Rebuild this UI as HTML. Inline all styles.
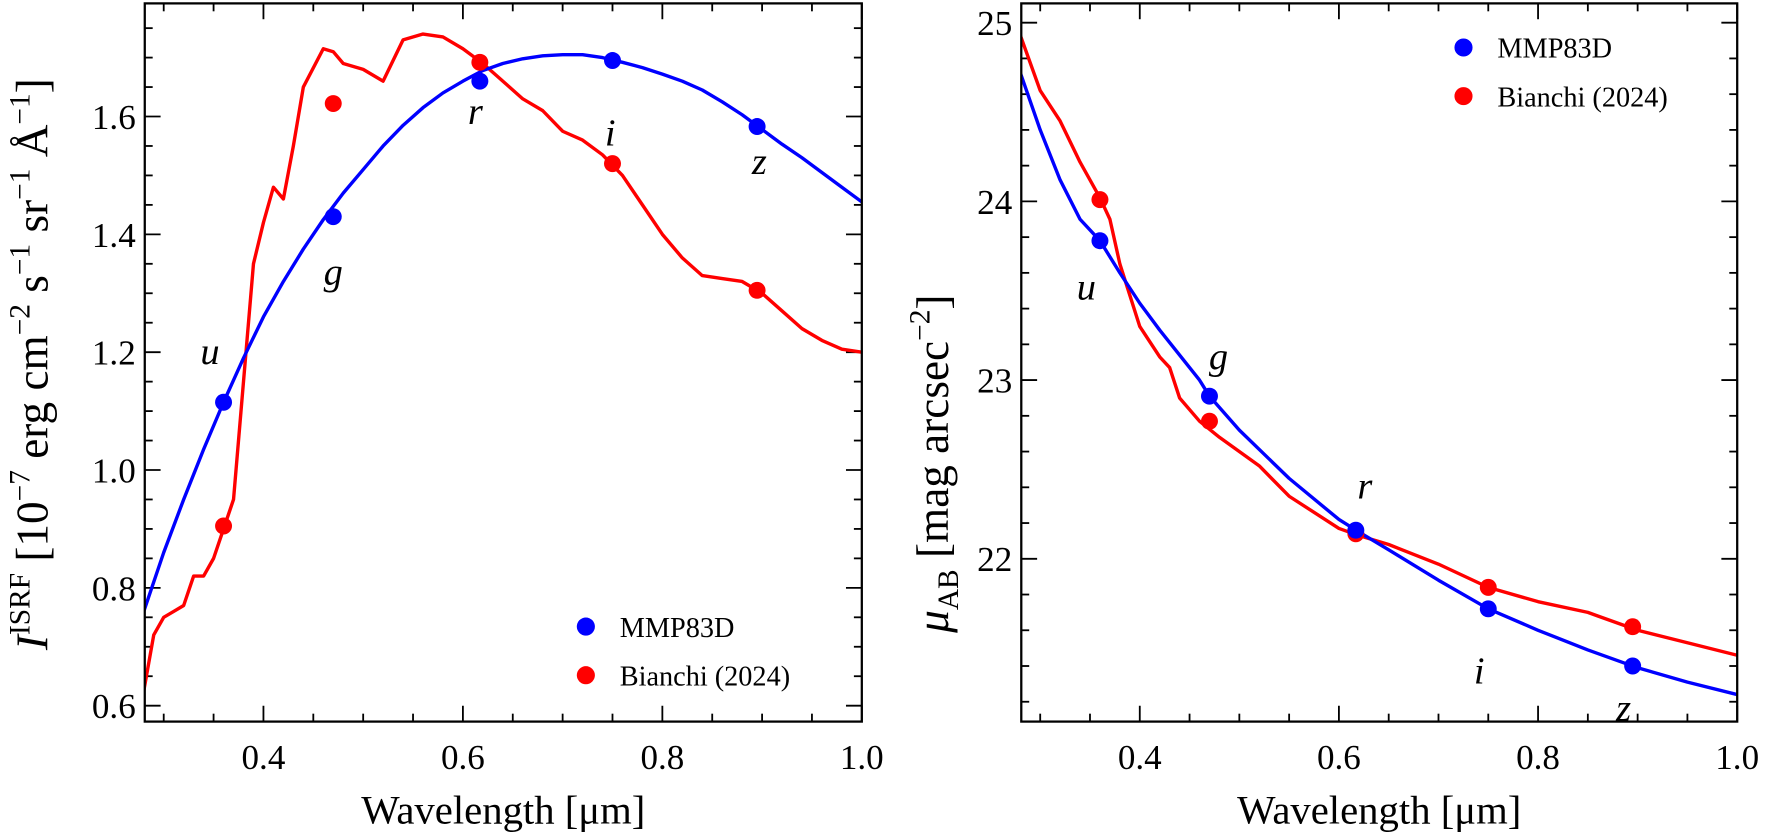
<!DOCTYPE html>
<html><head><meta charset="utf-8"><style>
html,body{margin:0;padding:0;background:#fff}
svg{display:block}
text{font-family:"Liberation Serif",serif;fill:#000}
</style></head><body>
<svg id="fig" width="1770" height="840" viewBox="0 0 1565 742.7" preserveAspectRatio="none"></svg>
<script>
const bands=["u","g","r","i","z"];
const bandWl=[0.36,0.47,0.617,0.75,0.895];
const leftBluePts=[1.115,1.43,1.66,1.695,1.583];
const leftRedPts=[0.905,1.622,1.692,1.52,1.305];
const rightBluePts=[23.78,22.91,22.16,21.72,21.40];
const rightRedPts=[24.01,22.77,22.14,21.84,21.62];
const leftBlueX=[0.28,0.30,0.32,0.34,0.36,0.38,0.40,0.42,0.44,0.46,0.48,0.50,0.52,0.54,0.56,0.58,0.60,0.62,0.64,0.66,0.68,0.70,0.72,0.74,0.76,0.78,0.80,0.82,0.84,0.86,0.88,0.90,0.92,0.94,0.96,0.98,1.0];
const leftBlueY=[0.76,0.86,0.95,1.035,1.115,1.19,1.26,1.32,1.375,1.425,1.47,1.51,1.55,1.585,1.615,1.64,1.66,1.678,1.69,1.698,1.703,1.705,1.705,1.70,1.692,1.683,1.672,1.66,1.645,1.625,1.603,1.578,1.553,1.53,1.505,1.48,1.455];
const leftRedX=[0.28,0.29,0.30,0.31,0.32,0.33,0.34,0.35,0.36,0.37,0.38,0.39,0.40,0.41,0.42,0.43,0.44,0.46,0.47,0.48,0.50,0.52,0.54,0.56,0.58,0.60,0.62,0.64,0.66,0.68,0.70,0.72,0.74,0.76,0.78,0.80,0.82,0.84,0.86,0.88,0.90,0.92,0.94,0.96,0.98,1.0];
const leftRedY=[0.625,0.72,0.75,0.76,0.77,0.82,0.82,0.85,0.90,0.95,1.15,1.35,1.42,1.48,1.46,1.55,1.65,1.715,1.71,1.69,1.68,1.66,1.73,1.74,1.735,1.715,1.69,1.66,1.63,1.61,1.575,1.56,1.535,1.50,1.45,1.40,1.36,1.33,1.325,1.32,1.30,1.27,1.24,1.22,1.205,1.20];
const rightBlueX=[0.28,0.30,0.32,0.34,0.36,0.38,0.40,0.42,0.44,0.46,0.47,0.50,0.55,0.60,0.62,0.65,0.70,0.75,0.80,0.85,0.90,0.95,1.0];
const rightBlueY=[24.72,24.40,24.12,23.90,23.78,23.60,23.43,23.28,23.14,23.00,22.91,22.72,22.45,22.22,22.15,22.05,21.88,21.72,21.60,21.49,21.39,21.31,21.24];
const rightRedX=[0.28,0.30,0.32,0.34,0.36,0.37,0.38,0.40,0.42,0.43,0.44,0.46,0.48,0.52,0.55,0.60,0.62,0.65,0.70,0.75,0.80,0.85,0.86,0.90,0.95,1.0];
const rightRedY=[24.93,24.62,24.45,24.22,24.02,23.90,23.65,23.30,23.13,23.07,22.90,22.77,22.68,22.52,22.35,22.17,22.13,22.08,21.97,21.84,21.76,21.70,21.68,21.60,21.53,21.46];
const xTicks=[0.4,0.6,0.8,1.0];
const xTickLabels=["0.4","0.6","0.8","1.0"];
const leftYTicks=[0.6,0.8,1.0,1.2,1.4,1.6];
const leftYTickLabels=["0.6","0.8","1.0","1.2","1.4","1.6"];
const rightYTicks=[22,23,24,25];
const rightYTickLabels=["22","23","24","25"];

const NS="http://www.w3.org/2000/svg";
const svg=document.getElementById('fig');
function mk(tag,attrs,parent){const e=document.createElementNS(NS,tag);for(const k in attrs)e.setAttribute(k,attrs[k]);(parent||svg).appendChild(e);return e;}

function panel(o){
  const g=mk('g',{});
  
  
  const sx=v=>o.x0+(v-o.xmin)/(o.xmax-o.xmin)*(o.x1-o.x0);
  const sy=v=>o.y1-(v-o.ymin)/(o.ymax-o.ymin)*(o.y1-o.y0);
  for(let v=0.3;v<=1.0001;v+=0.05){const X=sx(v);const major=xTicks.some(t=>Math.abs(t-v)<1e-6);const L=major?14:7;
    const t1=mk('line',{x1:X,x2:X,y1:o.y1,y2:o.y1-L,stroke:'#000','stroke-width':1.6},g);
    
    const t2=mk('line',{x1:X,x2:X,y1:o.y0,y2:o.y0+L,stroke:'#000','stroke-width':1.6},g);
    }
  xTicks.forEach((v,i)=>{const t=mk('text',{x:sx(v),y:o.y1+42,'font-size':31,'text-anchor':'middle'},g);t.textContent=xTickLabels[i];
    });
  for(let v=Math.ceil(o.ymin/o.minor)*o.minor;v<=o.ymax;v+=o.minor){const Y=sy(v);const major=o.yt.some(t=>Math.abs(t-v)<1e-6);const L=major?14:7;
    const t1=mk('line',{x1:o.x0,x2:o.x0+L,y1:Y,y2:Y,stroke:'#000','stroke-width':1.6},g);
    
    const t2=mk('line',{x1:o.x1,x2:o.x1-L,y1:Y,y2:Y,stroke:'#000','stroke-width':1.6},g);
    }
  o.yt.forEach((v,i)=>{const t=mk('text',{x:o.x0-8,y:sy(v)+11,'font-size':31,'text-anchor':'end'},g);t.textContent=o.ytl[i];
    });
  const clip=mk('clipPath',{id:o.name+'-clip'},g);mk('rect',{x:o.x0,y:o.y0,width:o.x1-o.x0,height:o.y1-o.y0},clip);
  const line=(xs,ys,c,n)=>{const p=mk('polyline',{points:xs.map((x,i)=>sx(x)+','+sy(ys[i])).join(' '),fill:'none',stroke:c,'stroke-width':3,'stroke-linejoin':'round','clip-path':'url(#'+o.name+'-clip)'},g);
    };
  line(o.rx,o.ry,'#ff0000','bianchi-line');
  line(o.bx,o.by,'#0000ff','mmp83d-line');
  bandWl.forEach((w,i)=>{const c1=mk('circle',{cx:sx(w),cy:sy(o.rp[i]),r:7.5,fill:'#ff0000'},g);
    
    const c2=mk('circle',{cx:sx(w),cy:sy(o.bp[i]),r:7.5,fill:'#0000ff'},g);
    
    const t=mk('text',{x:sx(w)+o.lab[i][0],y:sy(o.bp[i])+o.lab[i][1],'font-size':34,'font-style':'italic','text-anchor':'middle'},g);
    t.textContent=bands[i];});
  const fr=mk('rect',{x:o.x0,y:o.y0,width:o.x1-o.x0,height:o.y1-o.y0,fill:'none',stroke:'#000','stroke-width':2},g);
  
  const xl=mk('text',{x:(o.x0+o.x1)/2,y:o.y1+90,'font-size':36,'text-anchor':'middle'},g);
  xl.textContent='Wavelength [μm]';
  const lg=mk('g',{},g);
  [['MMP83D','#0000ff'],['Bianchi (2024)','#ff0000']].forEach((e,i)=>{
    const c=mk('circle',{cx:o.lx,cy:o.ly+i*43,r:8,fill:e[1]},lg);
    const t=mk('text',{x:o.lx+30,y:o.ly+i*43+9,'font-size':25},lg);t.textContent=e[0];});
  return g;
}
panel({name:'left-panel',x0:128,x1:762,y0:3,y1:638,xmin:0.281,xmax:1.0,ymin:0.573,ymax:1.792,minor:0.05,yt:leftYTicks,ytl:leftYTickLabels,
  bx:leftBlueX,by:leftBlueY,rx:leftRedX,ry:leftRedY,bp:leftBluePts,rp:leftRedPts,
  lab:[[-12,-34],[0,60],[-4,38],[-2,75],[2,42]],lx:518,ly:554});
panel({name:'right-panel',x0:903,x1:1536,y0:3,y1:638,xmin:0.281,xmax:1.0,ymin:21.089,ymax:25.108,minor:0.2,yt:rightYTicks,ytl:rightYTickLabels,
  bx:rightBlueX,by:rightBlueY,rx:rightRedX,ry:rightRedY,bp:rightBluePts,rp:rightRedPts,
  lab:[[-12,52],[8,-24],[8,-28],[-8,66],[-8,48]],lx:1294,ly:42});
const yl=mk('text',{transform:'translate(42,322) rotate(-90)','font-size':40,'text-anchor':'middle'});
yl.innerHTML='<tspan font-style="italic">I</tspan><tspan font-size="26" dy="-16">ISRF</tspan><tspan dy="16"> [10</tspan><tspan font-size="26" dy="-16">−7</tspan><tspan dy="16"> erg cm</tspan><tspan font-size="26" dy="-16">−2</tspan><tspan dy="16"> s</tspan><tspan font-size="26" dy="-16">−1</tspan><tspan dy="16"> sr</tspan><tspan font-size="26" dy="-16">−1</tspan><tspan dy="16"> Å</tspan><tspan font-size="26" dy="-16">−1</tspan><tspan dy="16">]</tspan>';


const yr=mk('text',{transform:'translate(838,410) rotate(-90)','font-size':40,'text-anchor':'middle'});
yr.innerHTML='<tspan font-style="italic">μ</tspan><tspan font-size="26" dy="9">AB</tspan><tspan dy="-9"> [mag arcsec</tspan><tspan font-size="26" dy="-16">−2</tspan><tspan dy="16">]</tspan>';


</script>
</body></html>
